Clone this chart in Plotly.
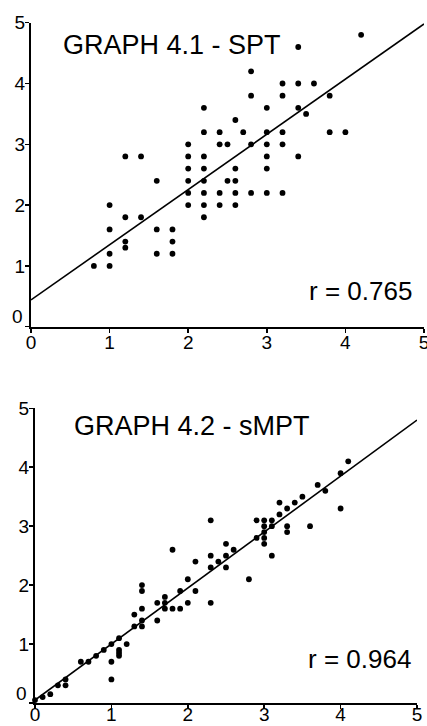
import plotly.graph_objects as go

# ---------------- data ----------------
# Graph 4.1 - SPT
spt_x = [0.8, 1.0, 1.0, 1.0, 1.0,
         1.2, 1.2, 1.2, 1.2,
         1.4, 1.4,
         1.6, 1.6, 1.6,
         1.8, 1.8, 1.8,
         2.0, 2.0, 2.0, 2.0, 2.0, 2.0,
         2.2, 2.2, 2.2, 2.2, 2.2, 2.2, 2.2, 2.2,
         2.4, 2.4, 2.4, 2.4,
         2.5, 2.5,
         2.6, 2.6, 2.6, 2.6, 2.6,
         2.7,
         2.8, 2.8, 2.8, 2.8,
         3.0, 3.0, 3.0, 3.0, 3.0, 3.0,
         3.2, 3.2, 3.2, 3.2, 3.2,
         3.4, 3.4, 3.4, 3.4,
         3.5, 3.6, 3.8, 3.8, 4.0, 4.2]
spt_y = [1.0, 1.0, 1.2, 1.6, 2.0,
         1.3, 1.4, 1.8, 2.8,
         1.8, 2.8,
         1.2, 1.6, 2.4,
         1.2, 1.4, 1.6,
         2.0, 2.2, 2.4, 2.6, 2.8, 3.0,
         1.8, 2.0, 2.2, 2.4, 2.6, 2.8, 3.2, 3.6,
         2.0, 2.2, 3.0, 3.2,
         2.4, 3.0,
         2.0, 2.2, 2.4, 2.6, 3.4,
         3.2,
         2.2, 3.0, 3.8, 4.2,
         2.2, 2.6, 2.8, 3.0, 3.2, 3.6,
         2.2, 3.0, 3.2, 3.8, 4.0,
         2.8, 3.6, 4.0, 4.6,
         3.5, 4.0, 3.2, 3.8, 3.2, 4.8]
spt_fit = {"intercept": 0.44, "slope": 0.908, "r": "0.765"}

# Graph 4.2 - sMPT
smpt_x = [0.0, 0.1, 0.2, 0.3, 0.4, 0.4,
          0.6, 0.7, 0.8, 0.9,
          1.0, 1.0, 1.0,
          1.1, 1.1, 1.1, 1.1,
          1.2,
          1.3, 1.3,
          1.4, 1.4, 1.4, 1.4, 1.4,
          1.6, 1.6,
          1.7, 1.7, 1.7,
          1.8, 1.8,
          1.9, 1.9,
          2.0, 2.0,
          2.1, 2.1,
          2.3, 2.3, 2.3, 2.3,
          2.4,
          2.5, 2.5, 2.5,
          2.6, 2.8,
          2.9, 2.9,
          3.0, 3.0, 3.0, 3.0, 3.0,
          3.1, 3.1, 3.1,
          3.2, 3.2,
          3.3, 3.3, 3.3,
          3.4, 3.5, 3.6, 3.7, 3.8,
          4.0, 4.0, 4.1]
smpt_y = [0.05, 0.1, 0.15, 0.3, 0.3, 0.4,
          0.7, 0.7, 0.8, 0.9,
          1.0, 0.7, 0.4,
          1.1, 0.9, 0.85, 0.8,
          1.0,
          1.5, 1.3,
          2.0, 1.9, 1.6, 1.4, 1.3,
          1.4, 1.7,
          1.8, 1.7, 1.6,
          2.6, 1.6,
          1.6, 1.9,
          2.1, 1.7,
          2.4, 1.9,
          3.1, 2.5, 2.3, 1.7,
          2.4,
          2.7, 2.5, 2.3,
          2.6, 2.1,
          3.1, 2.8,
          3.1, 3.0, 2.9, 2.8, 2.7,
          3.1, 3.0, 2.5,
          3.4, 3.2,
          3.3, 3.0, 2.9,
          3.4, 3.5, 3.0, 3.7, 3.6,
          3.9, 3.3, 4.1]
smpt_fit = {"intercept": 0.05, "slope": 0.95, "r": "0.964"}

tick_vals = [0, 1, 2, 3, 4, 5]
tick_text = ["0", "1", "2", "3", "4", "5"]
titles = ["GRAPH 4.1 - SPT", "GRAPH 4.2 - sMPT"]

# ---------------- layout helpers ----------------
W, H = 427, 726
FONT = "Liberation Sans, Arial, sans-serif"


def px_x(p):
    return p / W


def px_y(p):
    return 1 - p / H


fig = go.Figure()

panels = [
    dict(x=spt_x, y=spt_y, fit=spt_fit, xa="x", ya="y",
         xdom=(31, 424), ydom=(326.7, 22.7), title=titles[0],
         tpos=(172, 45), rpos=(360, 291), xstand=-7),
    dict(x=smpt_x, y=smpt_y, fit=smpt_fit, xa="x2", ya="y2",
         xdom=(35, 417), ydom=(703, 408.3), title=titles[1],
         tpos=(192, 426), rpos=(359, 659), xstand=-11),
]

annotations = []
for i, p in enumerate(panels):
    x0, x1 = 0, 5
    fig.add_trace(go.Scatter(
        x=[x0, x1],
        y=[p["fit"]["intercept"] + p["fit"]["slope"] * x0,
           p["fit"]["intercept"] + p["fit"]["slope"] * x1],
        mode="lines", line=dict(color="black", width=1.6),
        xaxis=p["xa"], yaxis=p["ya"], showlegend=False, hoverinfo="skip",
        cliponaxis=False))
    fig.add_trace(go.Scatter(
        x=p["x"], y=p["y"], mode="markers",
        marker=dict(color="black", size=5.8, line=dict(width=0)),
        xaxis=p["xa"], yaxis=p["ya"], showlegend=False, cliponaxis=False))

    sfx = "" if i == 0 else "2"
    axis_common = dict(
        range=[0, 5], showgrid=False, zeroline=False, showline=True,
        linecolor="black", linewidth=2, ticks="outside", ticklen=4,
        tickwidth=1.5, tickcolor="black", tickvals=tick_vals,
        tickfont=dict(family=FONT, size=19, color="black"),
        fixedrange=True, automargin=False, ticklabeloverflow="allow")
    fig.layout["xaxis" + sfx] = dict(
        axis_common, ticktext=tick_text,
        domain=[px_x(p["xdom"][0]), px_x(p["xdom"][1])],
        anchor="y" + sfx, ticklabelstandoff=p["xstand"])
    fig.layout["yaxis" + sfx] = dict(
        axis_common, ticktext=[""] + tick_text[1:],
        domain=[px_y(p["ydom"][0]), px_y(p["ydom"][1])],
        anchor="x" + sfx, ticklabelstandoff=-4)

    # y-axis "0" label sits slightly above the axis in the original
    annotations.append(dict(
        text=tick_text[0], xref="paper", yref="y" + sfx, x=px_x(p["xdom"][0] - 6),
        y=0, yshift=10, xanchor="right", yanchor="middle", showarrow=False,
        font=dict(family=FONT, size=19, color="black")))
    annotations.append(dict(
        text=p["title"], xref="paper", yref="paper",
        x=px_x(p["tpos"][0]), y=px_y(p["tpos"][1]),
        xanchor="center", yanchor="middle", showarrow=False,
        font=dict(family=FONT, size=27, color="black")))
    annotations.append(dict(
        text="r = " + p["fit"]["r"], xref="paper", yref="paper",
        x=px_x(p["rpos"][0]), y=px_y(p["rpos"][1]),
        xanchor="center", yanchor="middle", showarrow=False,
        font=dict(family=FONT, size=26, color="black")))

fig.update_layout(
    width=W, height=H, margin=dict(l=0, r=0, t=0, b=0, autoexpand=False),
    paper_bgcolor="white", plot_bgcolor="white",
    annotations=annotations, showlegend=False)

fig.write_html(
    "out.html",
    config={"displayModeBar": False, "staticPlot": True},
    post_script="document.body.style.margin='0';"
                "document.body.style.overflow='hidden';")
